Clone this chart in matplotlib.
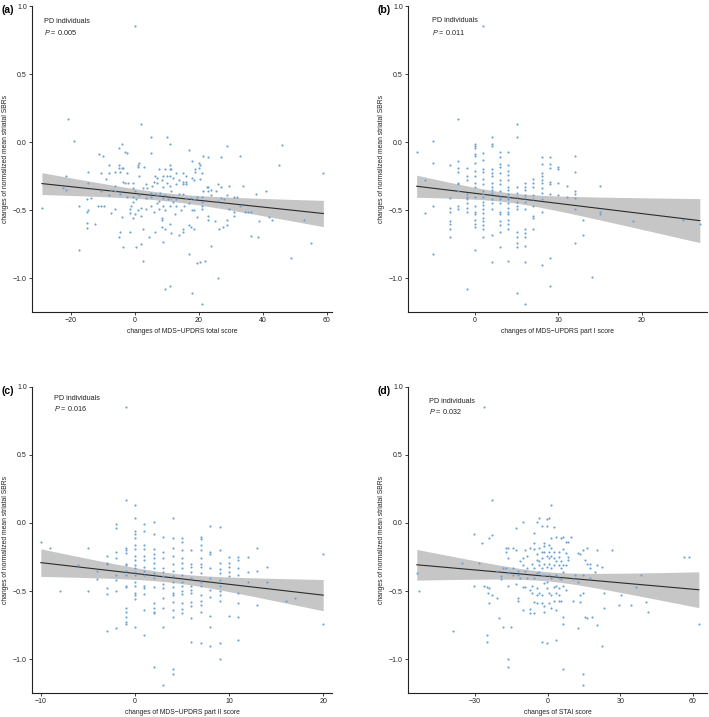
import numpy as np
import matplotlib
matplotlib.use("Agg")
import matplotlib.pyplot as plt

plt.rcParams['font.family'] = ['Liberation Sans', 'DejaVu Sans']
plt.rcParams['mathtext.fontset'] = 'custom'
plt.rcParams['mathtext.it'] = 'Liberation Sans:italic'
plt.rcParams['mathtext.rm'] = 'Liberation Sans'

# ---- panel (a): changes of MDS-UPDRS total score ----
a_x = [0, -21, -19, 2, 5, 10, 11, -4, -5, -3,
       -2.5, 5, 17, -11, -10, 46, 29, 33, 27, 21.5,
       23, 45, 59, 18, 20, 20.5, 1.5, 1, 1, 3,
       -5, -8, 11, -5, -4, -3.5, 7.5, 9.5, 11, 11.5,
       15, 13, 20, 19, 19, 21, -14.5, -10.5, -8, -21.5,
       -6, -4.5, -2.5, -9, 1.5, 6.5, 7, 9, 10, 11,
       12, 16, 18, 18.5, 20.5, -14.5, -3.5, -3, -2, -0.5,
       6, 7, 8.5, 10, 14, 15, 16, 16, 15, 13,
       11, 9, 5.5, 3.5, 4, 2.5, 5, 6.5, 7, 8,
       9.5, -0.5, 0, -6, -7.5, -6, -22.5, -21.5, -15, -10.5,
       -8, -4.5, -2.5, -0.5, 1.5, 3.5, 0.5, 5, 7.5, 9,
       10.5, 11.5, 11.5, 13, 14, 15, 16, 17.5, 18.5, 19.5,
       21, 21.5, 22.5, 23, 24, 23, 24, 25.5, 26, 27,
       29, 29.5, 27, 28, 26, 31, 32, 34, 38, 41,
       33, 21, 21, 21, 17, 15.5, 18.5, 18, 14.5, 13,
       12, 11, 9, 9.5, 7.5, 7, 6, 5, 3.5, 2,
       -0.5, -1, -1.5, 1, 2, 0, -1.5, -0.5, -4, -6,
       -7.5, -10.5, -11.5, -9.5, -13.5, -14.5, -15, -17.5, -29, -15,
       -15, -12.5, -17.5, -5, -4.5, -3.5, -1.5, 0.5, 2, 2.5,
       2.5, 4.5, 6.5, 9, 8.5, 8.5, 8.5, 9.5, 11, 11.5,
       12.5, 14, 15, 15, 17, 17.5, 18.5, 17, 19.5, 19.5,
       20.5, 22, 24, 23, 23, 25, 27.5, 26.5, 29, 29,
       29.5, 31, 31, 35.5, 34.5, 36.5, 39, 42, 43, 36.5,
       38.5, 49, 53, 55, 26, 9.5, 11, 18, 21]
a_y = [0.85, 0.17, 0.01, 0.13, 0.04, 0.04, -0.01, -0.01, -0.04, -0.07,
       -0.08, -0.08, -0.06, -0.09, -0.10, -0.02, -0.03, -0.10, -0.11, -0.10,
       -0.11, -0.17, -0.23, -0.14, -0.15, -0.17, -0.15, -0.17, -0.18, -0.18,
       -0.17, -0.17, -0.17, -0.19, -0.19, -0.19, -0.20, -0.20, -0.20, -0.20,
       -0.23, -0.23, -0.19, -0.22, -0.20, -0.23, -0.22, -0.23, -0.23, -0.25,
       -0.22, -0.22, -0.23, -0.27, -0.25, -0.25, -0.26, -0.25, -0.25, -0.25,
       -0.26, -0.25, -0.26, -0.28, -0.27, -0.30, -0.29, -0.30, -0.30, -0.30,
       -0.29, -0.30, -0.28, -0.30, -0.28, -0.29, -0.29, -0.31, -0.31, -0.31,
       -0.32, -0.33, -0.32, -0.31, -0.34, -0.34, -0.37, -0.38, -0.39, -0.37,
       -0.39, -0.34, -0.36, -0.32, -0.35, -0.36, -0.34, -0.35, -0.42, -0.36,
       -0.39, -0.38, -0.40, -0.40, -0.39, -0.41, -0.42, -0.40, -0.43, -0.41,
       -0.42, -0.36, -0.41, -0.42, -0.38, -0.38, -0.41, -0.41, -0.42, -0.40,
       -0.40, -0.36, -0.33, -0.33, -0.35, -0.36, -0.39, -0.36, -0.31, -0.33,
       -0.39, -0.32, -0.41, -0.42, -0.43, -0.40, -0.40, -0.32, -0.38, -0.36,
       -0.47, -0.44, -0.47, -0.49, -0.45, -0.47, -0.50, -0.50, -0.50, -0.47,
       -0.44, -0.47, -0.47, -0.50, -0.49, -0.45, -0.51, -0.47, -0.49, -0.48,
       -0.44, -0.47, -0.49, -0.50, -0.54, -0.53, -0.52, -0.56, -0.55, -0.49,
       -0.52, -0.47, -0.47, -0.47, -0.41, -0.50, -0.51, -0.47, -0.48, -0.59,
       -0.63, -0.60, -0.79, -0.70, -0.66, -0.77, -0.66, -0.77, -0.75, -0.64,
       -0.87, -0.70, -0.66, -0.73, -0.62, -0.56, -0.57, -0.64, -0.60, -0.67,
       -0.53, -0.68, -0.64, -0.66, -0.61, -0.62, -0.64, -0.82, -0.55, -0.89,
       -0.88, -0.87, -0.76, -0.54, -0.57, -0.58, -0.62, -0.64, -0.57, -0.61,
       -0.49, -0.51, -0.54, -0.51, -0.51, -0.51, -0.58, -0.55, -0.57, -0.69,
       -0.70, -0.85, -0.57, -0.74, -1.00, -1.08, -1.06, -1.11, -1.19]

# ---- panel (b): changes of MDS-UPDRS part I score (integer scores) ----
b_scores = [-7, -6, -5, -3, -2, -1, 0, 1, 2, 3, 4, 5, 6, 7, 8, 9, 10, 11, 12, 13, 14, 15, 19, 25, 27]
b_sbr = [
    [-0.07],
    [-0.28, -0.52],
    [0.01, -0.15, -0.47, -0.82],
    [-0.17, -0.41, -0.48, -0.51, -0.58, -0.60, -0.64, -0.70],
    [0.17, -0.14, -0.19, -0.22, -0.30, -0.31, -0.36, -0.47, -0.49],
    [-0.19, -0.25, -0.28, -0.38, -0.40, -0.42, -0.45, -0.48, -0.51, -1.08],
    [-0.01, -0.03, -0.04, -0.09, -0.10, -0.15, -0.21, -0.25, -0.30, -0.33, -0.40, -0.47, -0.51,
     -0.53, -0.57, -0.60, -0.62, -0.79],
    [0.85, -0.08, -0.13, -0.20, -0.22, -0.27, -0.31, -0.36, -0.38, -0.40, -0.44, -0.46, -0.49,
     -0.52, -0.56, -0.58, -0.61, -0.64, -0.70],
    [0.04, -0.01, -0.03, -0.20, -0.23, -0.25, -0.30, -0.33, -0.35, -0.37, -0.42, -0.45, -0.49,
     -0.68, -0.88],
    [-0.07, -0.11, -0.16, -0.18, -0.23, -0.28, -0.31, -0.36, -0.40, -0.42, -0.45, -0.51, -0.53,
     -0.58, -0.61, -0.66, -0.77],
    [-0.07, -0.17, -0.21, -0.24, -0.28, -0.33, -0.35, -0.38, -0.40, -0.42, -0.45, -0.48, -0.51,
     -0.53, -0.57, -0.60, -0.64, -0.87],
    [0.13, 0.04, -0.33, -0.37, -0.40, -0.44, -0.47, -0.49, -0.66, -0.70, -0.74, -0.77, -1.11],
    [-0.30, -0.33, -0.35, -0.39, -0.41, -0.44, -0.49, -0.64, -0.67, -0.70, -0.76, -0.88, -1.19],
    [-0.27, -0.30, -0.33, -0.39, -0.42, -0.47, -0.54, -0.56, -0.64],
    [-0.11, -0.16, -0.23, -0.25, -0.28, -0.30, -0.34, -0.37, -0.42, -0.51, -0.90],
    [-0.11, -0.16, -0.19, -0.29, -0.31, -0.38, -0.85, -1.06],
    [-0.18, -0.20, -0.30, -0.39],
    [-0.32, -0.40],
    [-0.10, -0.22, -0.36, -0.38, -0.41, -0.49, -0.74],
    [-0.57, -0.68],
    [-0.99],
    [-0.32, -0.51, -0.53],
    [-0.58],
    [-0.57],
    [-0.60],
]

# ---- panel (c): changes of MDS-UPDRS part II score (integer scores) ----
c_scores = [-10, -9, -8, -6, -5, -4, -3, -2, -1, 0, 1, 2, 3, 4, 5, 6, 7, 8, 9, 10, 11, 12, 13, 14, 16, 17, 20]
c_sbr = [
    [-0.14],
    [-0.18],
    [-0.50],
    [-0.31],
    [-0.18, -0.50],
    [-0.35, -0.41],
    [-0.24, -0.29, -0.30, -0.48, -0.52, -0.79],
    [-0.01, -0.04, -0.21, -0.26, -0.38, -0.42, -0.50, -0.77],
    [0.85, 0.17, -0.18, -0.20, -0.22, -0.30, -0.31, -0.35, -0.38, -0.46, -0.47, -0.62, -0.65,
     -0.69, -0.73, -0.74],
    [0.13, 0.04, -0.06, -0.08, -0.11, -0.16, -0.19, -0.24, -0.27, -0.31, -0.33, -0.36, -0.38,
     -0.43, -0.46, -0.51, -0.53, -0.56, -0.76],
    [-0.01, -0.06, -0.16, -0.19, -0.24, -0.27, -0.32, -0.35, -0.38, -0.46, -0.48, -0.52, -0.64, -0.82],
    [0.01, -0.08, -0.19, -0.23, -0.26, -0.29, -0.33, -0.37, -0.40, -0.47, -0.59, -0.62, -0.65,
     -0.66, -1.06],
    [-0.10, -0.21, -0.26, -0.33, -0.36, -0.39, -0.45, -0.48, -0.55, -0.62, -0.76, -1.19],
    [0.04, -0.11, -0.18, -0.24, -0.30, -0.35, -0.39, -0.43, -0.47, -0.51, -0.53, -0.58, -0.64,
     -0.69, -1.07, -1.11],
    [-0.11, -0.14, -0.20, -0.26, -0.29, -0.33, -0.38, -0.43, -0.46, -0.50, -0.52, -0.59, -0.63, -0.66],
    [-0.20, -0.30, -0.32, -0.36, -0.40, -0.46, -0.49, -0.51, -0.58, -0.61, -0.70, -0.87],
    [-0.10, -0.12, -0.16, -0.20, -0.26, -0.30, -0.32, -0.37, -0.43, -0.46, -0.53, -0.57, -0.60,
     -0.65, -0.88],
    [-0.02, -0.21, -0.23, -0.33, -0.40, -0.49, -0.54, -0.68, -0.76, -0.90],
    [-0.03, -0.20, -0.29, -0.34, -0.37, -0.42, -0.46, -0.50, -0.53, -0.57, -0.88, -1.00],
    [-0.25, -0.29, -0.32, -0.36, -0.39, -0.68],
    [-0.25, -0.27, -0.33, -0.38, -0.51, -0.59, -0.69, -0.86],
    [-0.25, -0.36, -0.43],
    [-0.18, -0.35, -0.60],
    [-0.32, -0.43],
    [-0.57],
    [-0.55],
    [-0.23, -0.74],
]

# ---- panel (d): changes of STAI score ----
d_x = [-26.3, -23.1, -54.1, -53.2, -39.3, -35.3, -30.3, -30.3, -28.4, -27.3,
       -24.2, -23.1, -26.2, -25.2, -24.2, -24.8, -23.1, -24.2, -25.2, -25.2,
       -21.1, -21.1, -20.1, -19.3, -19.3, -18.3, -18.3, -17.4, -17.4, -17.4,
       -16.3, -16.3, -16.3, -16.3, -15.3, -16.3, -16.3, -14.3, -14.3, -14.3,
       -13.2, -13.2, -13.2, -12.3, -12.3, -12.3, -12.3, -11.3, -11.3, -10.3,
       -10.3, -10.3, -10.3, -10.3, -9.4, -9.4, -9.4, -8.4, -8.4, -8.4,
       -7.4, -7.4, -7.4, -7.4, -6.5, -6.5, -6.5, -5.5, -5.5, -5.5,
       -5.5, -5.5, -5.5, -5.5, -4.4, -4.4, -4.4, -4.4, -4.4, -4.4,
       -4.4, -3.4, -3.4, -3.4, -3.4, -3.4, -3.4, -2.5, -2.5, -2.5,
       -2.5, -2.5, -2.5, -2.5, -2.5, -1.5, -1.5, -1.5, -1.5, -1.5,
       -1.5, -1.5, -1.5, -0.4, -0.4, -0.4, -0.4, -0.4, -0.4, -0.4,
       0.6, 0.6, 0.6, 0.6, 0.6, 0.6, 0.6, 0.6, 1.5, 1.5,
       1.5, 1.5, 1.5, 1.5, 1.5, 1.5, 2.5, 2.5, 2.5, 2.5,
       2.5, 2.5, 3.6, 3.6, 3.6, 3.6, 3.6, 3.6, 3.6, 4.5,
       4.5, 4.5, 4.5, 4.5, 4.5, 4.5, 5.5, 5.5, 5.5, 5.5,
       5.5, 6.5, 6.5, 6.5, 6.5, 6.5, 6.5, 6.5, 6.5, 7.4,
       7.4, 7.4, 7.4, 8.5, 8.5, 8.5, 9.5, 10.5, 10.5, 11.4,
       12.4, 12.4, 12.4, 13.4, 13.4, 13.4, 14.5, 14.5, 14.5, 14.5,
       14.5, 15.4, 15.4, 16.4, 16.4, 16.4, 17.4, 17.4, 17.4, 18.3,
       19.4, 20.4, 20.4, 20.4, 22.5, 23.4, 23.4, 22.5, 26.4, 29.5,
       30.4, 34.4, 36.4, 38.4, 40.5, 41.5, 56.5, 58.4, 62.5]
d_y = [0.85, 0.17, -0.37, -0.50, -0.79, -0.29, -0.08, -0.46, -0.29, -0.15,
       -0.11, -0.09, -0.46, -0.47, -0.48, -0.51, -0.53, -0.59, -0.82, -0.87,
       -0.55, -0.35, -0.70, -0.39, -0.41, -0.33, -0.76, -0.18, -0.21, -0.33,
       -0.18, -0.26, -0.37, -0.46, -0.76, -1.00, -1.06, -0.18, -0.33, -0.38,
       -0.04, -0.20, -0.45, -0.35, -0.38, -0.55, -0.57, -0.40, -0.28, 0.01,
       -0.26, -0.31, -0.47, -0.64, -0.20, -0.35, -0.47, -0.24, -0.33, -0.40,
       -0.49, -0.63, -0.66, -0.18, -0.30, -0.46, -0.51, -0.07, -0.15, -0.19,
       -0.33, -0.40, -0.58, -0.66, 0.01, -0.23, -0.27, -0.37, -0.48, -0.53,
       -0.59, 0.04, -0.18, -0.28, -0.31, -0.36, -0.51, -0.02, -0.21, -0.26,
       -0.33, -0.38, -0.53, -0.59, -0.87, -0.15, -0.17, -0.21, -0.30, -0.38,
       -0.44, -0.61, -0.65, 0.03, -0.02, -0.24, -0.32, -0.43, -0.48, -0.88,
       0.04, -0.16, -0.21, -0.26, -0.30, -0.38, -0.51, -0.59, 0.13, -0.11,
       -0.18, -0.24, -0.33, -0.40, -0.53, -0.62, -0.03, -0.21, -0.26, -0.31,
       -0.47, -0.57, -0.10, -0.28, -0.38, -0.46, -0.51, -0.64, -0.86, -0.21,
       -0.25, -0.31, -0.40, -0.48, -0.53, -0.57, -0.11, -0.28, -0.33, -0.41,
       -0.57, -0.10, -0.19, -0.31, -0.36, -0.46, -0.69, -0.74, -1.07, -0.14,
       -0.22, -0.31, -0.49, -0.14, -0.25, -0.27, -0.10, -0.41, -0.57, -0.38,
       -0.22, -0.43, -0.77, -0.23, -0.53, -0.58, -0.20, -0.38, -0.51, -1.11,
       -1.19, -0.27, -0.69, -0.18, -0.70, -0.30, -0.30, -0.33, -0.40, -0.69,
       -0.36, -0.20, -0.31, -0.75, -0.32, -0.51, -0.62, -0.90, -0.20, -0.60,
       -0.53, -0.60, -0.47, -0.38, -0.58, -0.65, -0.25, -0.25, -0.74]

panel_tags = ['(a)', '(b)', '(c)', '(d)']
p_values = ['0.005', '0.011', '0.016', '0.032']
x_labels = ['changes of MDS\u2212UPDRS total score',
            'changes of MDS\u2212UPDRS part I score',
            'changes of MDS\u2212UPDRS part II score',
            'changes of STAI score']
x_ticks = [[-20, 0, 20, 40, 60], [0, 10, 20], [-10, 0, 10, 20], [-30, 0, 30, 60]]
x_lims = [(-32, 61.6), (-8, 27.9), (-10.9, 20.9), (-57.6, 66)]
y_label = 'changes of normalized mean striatal SBRs'


def expand(scores, groups):
    xs, ys = [], []
    for s, g in zip(scores, groups):
        xs += [s] * len(g)
        ys += g
    return xs, ys


b_x, b_y = expand(b_scores, b_sbr)
c_x, c_y = expand(c_scores, c_sbr)
panels = [(a_x, a_y), (b_x, b_y), (c_x, c_y), (d_x, d_y)]

# axes boxes in figure fractions (left, bottom, width, height)
boxes = [(0.0456, 0.5653, 0.4222, 0.4263),
         (0.5759, 0.5653, 0.4217, 0.4263),
         (0.0456, 0.0339, 0.4222, 0.4268),
         (0.5759, 0.0339, 0.4217, 0.4268)]
note_pos = [(0.040, 0.949, 0.914), (0.078, 0.954, 0.914),
            (0.072, 0.962, 0.929), (0.069, 0.951, 0.918)]

fig = plt.figure(figsize=(7.09, 7.17), dpi=100)

for i, (xv, yv) in enumerate(panels):
    x = np.asarray(xv, float)
    y = np.asarray(yv, float)
    ax = fig.add_axes(boxes[i])

    # linear fit with 95% confidence band
    n = len(x)
    slope, icpt = np.polyfit(x, y, 1)
    resid = y - (icpt + slope * x)
    s = np.sqrt(np.sum(resid ** 2) / (n - 2))
    xs = np.linspace(x.min(), x.max(), 100)
    fit = icpt + slope * xs
    se = s * np.sqrt(1.0 / n + (xs - x.mean()) ** 2 / np.sum((x - x.mean()) ** 2))
    ax.fill_between(xs, fit - 1.97 * se, fit + 1.97 * se, color='#c6c6c6', lw=0, zorder=1)
    ax.plot(xs, fit, color='#2b2b2b', lw=0.8, zorder=2)
    ax.scatter(x, y, s=2.4, color='#6aa3d5', linewidths=0, zorder=3)

    ax.set_xlim(*x_lims[i])
    ax.set_ylim(-1.245, 1.0)
    ax.set_xticks(x_ticks[i])
    ax.set_yticks([-1.0, -0.5, 0.0, 0.5, 1.0])
    ax.set_yticklabels(['\u22121.0', '\u22120.5', '0.0', '0.5', '1.0'])
    ax.set_xticklabels([str(t).replace('-', '\u2212') for t in x_ticks[i]])
    for side in ['top', 'right']:
        ax.spines[side].set_visible(False)
    for side in ['left', 'bottom']:
        ax.spines[side].set_linewidth(0.8)
        ax.spines[side].set_color('#222222')
    ax.tick_params(length=2, width=0.6, labelsize=5, pad=2, colors='#222222')
    ax.set_xlabel(x_labels[i], fontsize=4.9, labelpad=2.5, color='#222222')
    ax.set_ylabel(y_label, fontsize=4.9, labelpad=2.8, color='#222222')

    nx, ny1, ny2 = note_pos[i]
    ax.text(nx, ny1, 'PD individuals', transform=ax.transAxes, fontsize=5.2,
            va='center', ha='left', color='#222222')
    ax.text(nx, ny2, '$P$ = ' + p_values[i], transform=ax.transAxes, fontsize=5.2,
            va='center', ha='left', color='#222222')

    # panel tag, placed left of the y axis top
    fig.text(boxes[i][0] - 0.043, boxes[i][1] + boxes[i][3] - 0.006, panel_tags[i],
             fontsize=7.5, fontweight='bold', ha='left', va='center')

fig.savefig('out.png', dpi=100)
